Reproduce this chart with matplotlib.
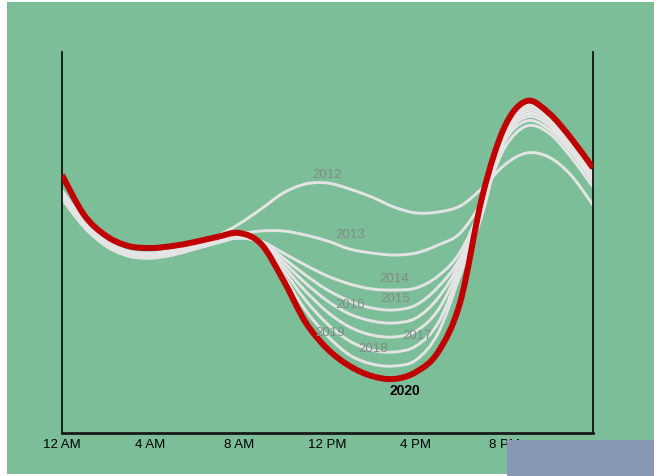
import numpy as np
import matplotlib
matplotlib.use("Agg")
import matplotlib.pyplot as plt
from matplotlib.patches import Rectangle, PathPatch
from matplotlib.path import Path

# ======== DATA: net load (MW) per hour ========
hours = list(range(25))
tick_hours = [0, 4, 8, 12, 16, 20]
tick_labels = ["12 AM", "4 AM", "8 AM", "12 PM", "4 PM", "8 PM"]

y2012 = [22150, 20600, 19600, 19100, 19000, 19150, 19450, 19850, 20450, 21200, 22000, 22450, 22500,
         22200, 21800, 21300, 21000, 21050, 21350, 22250, 23400, 24000, 23800, 22900, 21400]
y2013 = [22050, 20550, 19550, 19050, 18950, 19100, 19400, 19700, 19950, 20100, 20100, 19900, 19600,
         19200, 19000, 18900, 19000, 19400, 20000, 21650, 24250, 25350, 25000, 23800, 22300]
y2014 = [22000, 20500, 19500, 19000, 18900, 19050, 19350, 19650, 19850, 19600, 19000, 18400, 17850,
         17450, 17200, 17150, 17250, 17850, 19050, 21450, 24550, 25600, 25200, 24050, 22550]
y2015 = [21900, 20450, 19450, 18950, 18850, 19000, 19300, 19600, 19800, 19550, 18750, 17900, 17150,
         16600, 16250, 16150, 16400, 17300, 18750, 21350, 24700, 25800, 25400, 24150, 22650]
y2016 = [21850, 20400, 19400, 18900, 18800, 18950, 19250, 19550, 19800, 19500, 18550, 17500, 16600,
         15950, 15600, 15500, 15750, 16750, 18550, 21250, 24850, 25950, 25550, 24250, 22750]
y2017 = [21800, 20350, 19400, 18900, 18800, 18950, 19250, 19550, 19750, 19500, 18350, 17100, 16050,
         15300, 14900, 14800, 15100, 16150, 18350, 21150, 24950, 26100, 25700, 24350, 22850]
y2018 = [21750, 20300, 19350, 18850, 18750, 18900, 19200, 19500, 19750, 19450, 18150, 16650, 15450,
         14600, 14150, 14050, 14350, 15500, 18150, 21050, 25050, 26250, 25850, 24450, 22950]
y2019 = [21700, 20300, 19350, 18850, 18750, 18900, 19200, 19500, 19750, 19450, 17900, 16150, 14850,
         13900, 13450, 13350, 13650, 15000, 17900, 20950, 25150, 26400, 25950, 24200, 23000]
y2020 = [22900, 20900, 19850, 19350, 19250, 19350, 19550, 19800, 20000, 19450, 17650, 15550, 14200,
         13350, 12850, 12700, 13050, 14050, 16550, 21850, 25300, 26600, 26000, 24750, 23250]

years = ["2012", "2013", "2014", "2015", "2016", "2017", "2018", "2019"]
# where each year label sits (hour, MW)
label_x = [12.0, 13.0, 15.0, 15.05, 13.0, 16.05, 14.05, 12.1]
label_y = [22900, 19900, 17700, 16700, 16400, 14850, 14200, 15000]


def smooth_path(xs, ys):
    """Excel-style smoothed line: cubic bezier through every data point"""
    p = np.column_stack([xs, ys]).astype(float)
    verts = [p[0]]
    codes = [Path.MOVETO]
    n = len(p)
    for i in range(n - 1):
        p_prev = p[i - 1] if i > 0 else p[i]
        p_next2 = p[i + 2] if i + 2 < n else p[i + 1]
        c1 = p[i] + (p[i + 1] - p_prev) / 6.0
        c2 = p[i + 1] - (p_next2 - p[i]) / 6.0
        verts += [c1, c2, p[i + 1]]
        codes += [Path.CURVE4] * 3
    return Path(verts, codes)


# ======== FIGURE ========
GREEN = "#7bbe98"
fig = plt.figure(figsize=(6.54, 4.76), dpi=100, facecolor="white")
fig.patches.append(Rectangle((7 / 654, 2 / 476), 1 - 7 / 654, 472 / 476,
                             transform=fig.transFigure, facecolor=GREEN,
                             edgecolor="none", zorder=-10))

ax = fig.add_axes([62 / 654, 43 / 476, 531 / 654, 381 / 476])
ax.set_facecolor("none")

white_series = [y2012, y2013, y2014, y2015, y2016, y2017, y2018, y2019]
for ys in white_series:
    ax.add_patch(PathPatch(smooth_path(hours, ys), fill=False, edgecolor="#e4e4e4",
                           lw=2.1, joinstyle="round", capstyle="butt", zorder=2))
ax.add_patch(PathPatch(smooth_path(hours, y2020), fill=False, edgecolor="#c00000",
                       lw=4.3, joinstyle="round", capstyle="butt", zorder=3))

for name, lx, ly in zip(years, label_x, label_y):
    ax.text(lx, ly, name, color="#858a87", fontsize=9.5, ha="center", va="center",
            family="Liberation Sans", zorder=4)
ax.text(15.5, 12100, "2020", color="black", fontsize=10, fontweight="bold",
        ha="center", va="center", family="Liberation Sans", zorder=4)

ax.set_xlim(0, 24)
ax.set_ylim(10000, 29050)
ax.set_yticks([])
ax.set_xticks(tick_hours)
ax.set_xticklabels(tick_labels, family="Liberation Sans", fontsize=9.5)
ax.tick_params(axis="x", length=0, pad=4)

ax.spines["top"].set_visible(False)
for side in ["left", "right"]:
    ax.spines[side].set_linewidth(1.3)
    ax.spines[side].set_color("#111111")
ax.spines["bottom"].set_linewidth(2.0)
ax.spines["bottom"].set_color("#1a1a1a")

# grey-blue box covering the lower right corner
fig.patches.append(Rectangle((507 / 654, 0), 1 - 507 / 654, 36 / 476,
                             transform=fig.transFigure, facecolor="#8898b4",
                             edgecolor="none", zorder=10))

fig.savefig("out.png", dpi=100, facecolor=fig.get_facecolor())
